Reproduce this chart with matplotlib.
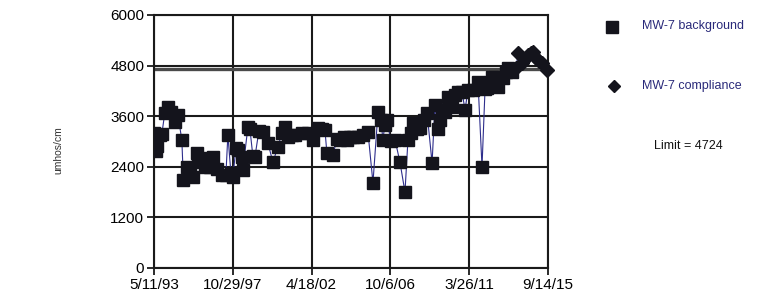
import numpy as np
import pandas as pd
import matplotlib
matplotlib.use("Agg")
import matplotlib.pyplot as plt
from matplotlib.lines import Line2D

plt.rcParams['font.family'] = ['Liberation Sans', 'DejaVu Sans']

# MW-7 background samples
bg_dates = [
    "1993-05-21", "1993-06-20", "1993-07-21", "1993-09-12", "1993-10-23", "1993-12-24",
    "1994-02-25", "1994-04-27", "1994-07-18", "1994-09-19", "1994-12-11", "1995-01-12",
    "1995-03-24", "1995-05-25", "1995-07-26", "1995-10-18", "1995-11-18", "1996-01-30",
    "1996-04-01", "1996-06-02", "1996-07-13", "1996-09-14", "1996-12-06", "1997-03-18",
    "1997-06-10", "1997-07-21", "1997-09-22", "1997-11-02", "1998-01-04", "1998-02-14",
    "1998-05-06", "1998-05-27", "1998-09-09", "1998-10-20", "1998-12-21", "1999-02-01",
    "1999-04-24", "1999-07-15", "1999-10-28", "2000-02-09", "2000-05-21", "2000-08-13",
    "2000-10-14", "2000-12-15", "2001-03-07", "2001-05-08", "2001-10-01", "2002-02-04",
    "2002-05-16", "2002-08-28", "2002-11-20", "2003-01-21", "2003-03-02", "2003-07-04",
    "2003-09-26", "2003-11-27", "2004-02-18", "2004-04-20", "2004-06-21", "2004-08-23",
    "2004-12-05", "2005-03-17", "2005-06-29", "2005-10-11", "2006-01-24", "2006-03-25",
    "2006-05-05", "2006-06-16", "2006-07-27", "2006-10-19", "2007-01-11", "2007-04-23",
    "2007-08-05", "2007-10-06", "2007-12-07", "2008-01-18", "2008-04-10", "2008-06-11",
    "2008-09-02", "2008-11-04", "2009-02-16", "2009-04-17", "2009-06-18", "2009-07-30",
    "2009-09-10", "2009-11-11", "2010-01-13", "2010-04-05", "2010-06-06", "2010-08-07",
    "2010-10-29", "2010-12-30", "2011-03-02", "2011-06-13", "2011-09-25", "2011-12-17",
    "2012-02-18", "2012-03-29", "2012-05-30", "2012-07-11", "2012-09-12", "2012-11-13",
    "2013-02-26", "2013-04-27", "2013-06-08", "2013-08-30",
]
bg_values = [
    3200, 2780, 2900, 3150, 3180, 3680,
    3820, 3700, 3460, 3630, 3040, 2090,
    2400, 2300, 2160, 2730, 2510, 2600,
    2400, 2500, 2390, 2630, 2350, 2210,
    2200, 3150, 2250, 2160, 2850, 2800,
    2630, 2330, 3340, 3300, 2650, 2630,
    3250, 3230, 2960, 2510, 2870, 3200,
    3340, 3110, 3150, 3150, 3200, 3200,
    3040, 3320, 3300, 3270, 2730, 2680,
    3050, 3040, 3100, 3040, 3100, 3100,
    3110, 3150, 3230, 2020, 3700, 3500,
    3040, 3400, 3510, 3000, 3040, 2510,
    1800, 3040, 3200, 3440, 3300, 3320,
    3500, 3680, 2490, 3860, 3300, 3510,
    3750, 3700, 4050, 3820, 4100, 4170,
    4180, 3750, 4220, 4220, 4410, 2400,
    4250, 4270, 4400, 4530, 4520, 4290,
    4500, 4650, 4740, 4650,
]

# MW-7 compliance samples
cp_dates = [
    "2013-11-21", "2014-01-02", "2014-03-24", "2014-05-25", "2014-07-26", "2014-09-27",
    "2014-11-08", "2015-01-10", "2015-03-11", "2015-05-12", "2015-08-24",
]
cp_values = [4750, 5100, 4860, 4950, 5050, 5100, 5120, 4980, 4900, 4860, 4700]

limit = 4724
tick_dates = ["1993-05-11", "1997-10-29", "2002-04-18", "2006-10-06", "2011-03-26", "2015-09-14"]
tick_labels = ["5/11/93", "10/29/97", "4/18/02", "10/6/06", "3/26/11", "9/14/15"]
y_ticks = [0, 1200, 2400, 3600, 4800, 6000]

bg_x = pd.to_datetime(bg_dates)
cp_x = pd.to_datetime(cp_dates)
ticks_x = pd.to_datetime(tick_dates)

fig = plt.figure(figsize=(7.58, 3.0), dpi=100)
ax = fig.add_axes([0.203, 0.107, 0.520, 0.843])

mark_col = "#14141c"
line_col = "#2e2e8c"

ax.axhline(limit, color="#4a4a4a", lw=2.4, zorder=2)
ax.plot(bg_x, bg_values, color=line_col, lw=0.8, marker="s", ms=8.5,
        mfc=mark_col, mec=mark_col, zorder=3)
ax.plot(cp_x, cp_values, color=line_col, lw=0.8, marker="D", ms=7,
        mfc=mark_col, mec=mark_col, zorder=3, clip_on=False)

ax.set_xlim(ticks_x[0], ticks_x[-1])
ax.set_ylim(0, 6000)
ax.set_xticks(ticks_x)
ax.set_xticklabels(tick_labels)
ax.set_yticks(y_ticks)
ax.grid(True, color="#1a1a1a", lw=1.5)
ax.set_axisbelow(True)
for s in ax.spines.values():
    s.set_color("#1a1a1a")
    s.set_linewidth(1.5)
ax.tick_params(axis="both", direction="out", length=5, width=1.3, color="#1a1a1a",
               labelsize=11, pad=2)

fig.text(0.077, 0.5, "umhos/cm", rotation=90, ha="center", va="center",
         fontsize=7.5, color="#333333")

# legend drawn by hand
fig.add_artist(Line2D([612 / 758], [1 - 27 / 300], marker="s", ms=8,
                      color=mark_col, transform=fig.transFigure))
fig.add_artist(Line2D([614 / 758], [1 - 86 / 300], marker="D", ms=6.5,
                      color=mark_col, transform=fig.transFigure))
fig.text(642 / 758, 1 - 26 / 300, "MW-7 background", fontsize=9, color="#2a2a7a",
         va="center", ha="left")
fig.text(642 / 758, 1 - 86 / 300, "MW-7 compliance", fontsize=9, color="#2a2a7a",
         va="center", ha="left")
fig.text(688 / 758, 1 - 146 / 300, "Limit = 4724", fontsize=9, color="#111111",
         va="center", ha="center")

fig.savefig("out.png", dpi=100)
